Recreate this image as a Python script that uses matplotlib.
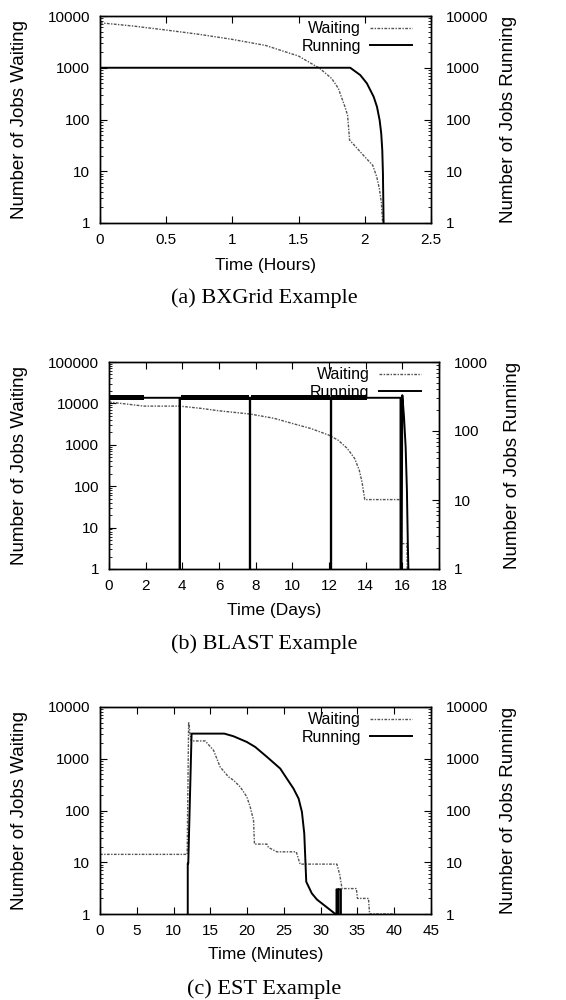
import matplotlib
matplotlib.use("Agg")
import matplotlib.pyplot as plt
from matplotlib.ticker import FixedLocator, LogLocator, NullFormatter, FuncFormatter

plt.rcParams['font.family'] = ['Liberation Sans', 'DejaVu Sans']

# (a) BXGrid
wait_a_t = [0, 0.25, 0.5, 0.75, 1.0, 1.25, 1.5, 1.66, 1.75, 1.8, 1.85, 1.87, 1.885,
            1.92, 2.0, 2.06, 2.09, 2.11, 2.125, 2.135]
wait_a_v = [7400, 6400, 5350, 4420, 3530, 2700, 1680, 970, 620, 400, 176, 121, 40,
            32, 19, 13, 7.8, 4.6, 2.5, 1]
run_a_t = [0, 0, 1.89, 1.966, 2.016, 2.067, 2.092, 2.112, 2.124, 2.132, 2.137, 2.142]
run_a_v = [1, 1000, 1000, 721, 498, 275, 176, 97, 54, 25.5, 9, 1]

# (b) BLAST
wait_b_t = [0, 1, 1.9, 3.85, 5, 6, 7.7, 9, 10, 11, 12, 12.5, 13, 13.4, 13.65, 13.8,
            13.9, 13.95, 15.95, 15.97, 16.25, 16.27]
wait_b_v = [10800, 9600, 8600, 8600, 7600, 6630, 5530, 4370, 3280, 2480, 1710, 1290,
            815, 466, 244, 127, 66, 47.5, 47.5, 4.1, 4.1, 1]
run_b_t = [0, 0, 3.85, 3.85, 3.87, 3.87, 7.68, 7.68, 7.70, 7.70, 12.1, 12.1, 12.12,
           12.12, 15.9, 15.9, 15.96, 16.0, 16.09, 16.18, 16.25, 16.3, 16.33]
run_b_v = [1, 303, 303, 1, 1, 303, 303, 1, 1, 303, 303, 1, 1, 303, 303, 1, 1, 330,
           161, 59, 13.8, 2.3, 1]
# stretches where the running count flickers quickly (drawn as a band)
band_b_start = [0, 3.9, 7.75, 12.15]
band_b_end = [1.93, 7.62, 12.05, 14.05]
band_b_low, band_b_high = 283, 327

# (c) EST
wait_c_t = [0, 11.85, 12.05, 12.25, 12.4, 14.3, 15.43, 16.33, 17.47, 18.15, 19.06,
            19.96, 20.42, 20.87, 21.0, 22.69, 22.9, 24.05, 26.68, 27.2, 32.2, 32.6,
            32.9, 34.85, 35.0, 36.5, 36.65, 40.15]
wait_c_v = [14.2, 14.2, 5100, 3000, 2210, 2210, 1460, 696, 446, 385, 286, 184, 117,
            65, 22.4, 22.4, 19.3, 15.9, 15.9, 9.2, 9.2, 5.7, 3.1, 3.1, 2.0, 2.0, 1, 1]
run_c_t = [11.93, 11.93, 12.0, 12.45, 16.9, 18.15, 19.96, 21.1, 22.7, 24.5, 25.4,
           26.3, 27.0, 27.45, 27.77, 28.04, 28.8, 29.5, 32.0, 32.15, 32.15, 32.35,
           32.35, 32.45, 32.45, 32.75, 32.75]
run_c_v = [1, 9.5, 9.5, 3060, 3060, 2720, 2110, 1690, 1085, 647, 414, 266, 170,
           94, 36, 4.2, 2.5, 1.9, 1, 1, 3, 3, 1, 1, 3, 3, 1]

fig = plt.figure(figsize=(5.66, 10), dpi=100)
W, H = 566.0, 1000.0

wait_style = dict(color='#555555', lw=1.0, ls=(0, (2, 1, 1, 1)))
run_style = dict(color='black', lw=1.4)
fmt = FuncFormatter(lambda v, p: '%g' % v)


def panel(px, xmax, xstep, y1max, y2max, xlabel, caption, lab1x, lab2x, xlab_y):
    left, right, top, bottom = px
    ax = fig.add_axes([left / W, 1 - bottom / H, (right - left) / W, (bottom - top) / H])
    ax2 = ax.twinx()
    for a, ymax in ((ax, y1max), (ax2, y2max)):
        a.set_yscale('log')
        a.set_ylim(1, ymax)
        a.yaxis.set_major_formatter(fmt)
        a.yaxis.set_minor_locator(LogLocator(base=10, subs=range(2, 10)))
        a.yaxis.set_minor_formatter(NullFormatter())
    ax.set_xlim(0, xmax)
    ticks = [i * xstep for i in range(int(round(xmax / xstep)) + 1)]
    ax.xaxis.set_major_locator(FixedLocator(ticks))
    ax.xaxis.set_major_formatter(fmt)
    ax.tick_params(axis='both', which='major', direction='in', length=5, width=0.8,
                   labelsize=11, top=True, pad=7)
    ax.tick_params(axis='y', which='minor', direction='in', length=2.5, width=0.6)
    ax2.tick_params(axis='y', which='major', direction='in', length=5, width=0.8,
                    labelsize=11, pad=11)
    ax2.tick_params(axis='y', which='minor', direction='in', length=2.5, width=0.6)
    for a in (ax, ax2):
        for s in a.spines.values():
            s.set_linewidth(1.0)
    ax.set_xlabel(xlabel, fontsize=12.5)
    ax.xaxis.set_label_coords(0.5, xlab_y)
    ax.set_ylabel('Number of Jobs Waiting', fontsize=13.5)
    ax.yaxis.set_label_coords(lab1x, 0.5)
    ax2.set_ylabel('Number of Jobs Running', fontsize=13.5)
    ax2.yaxis.set_label_coords(lab2x, 0.5)
    fig.text(264 / W, 1 - (bottom + 75) / H, caption, ha='center', va='center',
             fontsize=16, family=['Liberation Serif', 'DejaVu Serif'])
    return ax, ax2


def legend(ax, lw, lr, xr):
    ax.legend([lw, lr], ['Waiting', 'Running'], loc='upper right', frameon=False,
              markerfirst=False, fontsize=11.5, handlelength=2.6, handletextpad=0.6,
              labelspacing=0.18, borderpad=0, borderaxespad=0,
              bbox_to_anchor=(xr, 0.975))


# (a)
ax, ax2 = panel((100, 431, 16, 223), 2.5, 0.5, 10000, 10000, 'Time (Hours)',
                '(a) BXGrid Example', -0.2175, 1.2085, -0.17)
lw, = ax.plot(wait_a_t, wait_a_v, **wait_style)
lr, = ax2.plot(run_a_t, run_a_v, **run_style)
legend(ax, lw, lr, 0.9426)

# (b)
ax, ax2 = panel((109, 439, 362, 569), 18, 2, 100000, 1000, 'Time (Days)',
                '(b) BLAST Example', -0.245, 1.197, -0.165)
lw, = ax.plot(wait_b_t, wait_b_v, **wait_style)
lr, = ax2.plot(run_b_t, run_b_v, **run_style)
for s, e in zip(band_b_start, band_b_end):
    ax2.fill_between([s, e], band_b_low, band_b_high, color='black', lw=0)
legend(ax, lw, lr, 0.945)

# (c)
ax, ax2 = panel((100, 431, 707, 914), 45, 5, 10000, 10000, 'Time (Minutes)',
                '(c) EST Example', -0.2175, 1.2085, -0.16)
lw, = ax.plot(wait_c_t, wait_c_v, **wait_style)
lr, = ax2.plot(run_c_t, run_c_v, **run_style)
legend(ax, lw, lr, 0.9426)

fig.savefig('out.png', dpi=100)
